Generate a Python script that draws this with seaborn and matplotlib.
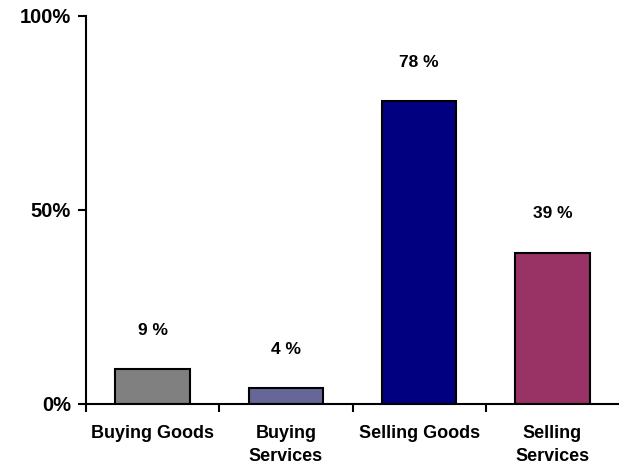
import matplotlib

matplotlib.use("Agg")
import matplotlib.pyplot as plt
import numpy as np
import pandas as pd
import seaborn as sns

categories = ["Buying Goods", "Buying\nServices", "Selling Goods", "Selling\nServices"]
values = [9, 4, 78, 39]
colors = ["#808080", "#666699", "#000080", "#993366"]

sns.set_style("white")
plt.rcParams["font.family"] = ["Liberation Sans", "DejaVu Sans"]
plt.rcParams["text.color"] = "black"
plt.rcParams["xtick.color"] = "black"
plt.rcParams["ytick.color"] = "black"

df = pd.DataFrame({"category": categories, "value": values})

fig = plt.figure(figsize=(6.19, 4.68), dpi=100)
ax = fig.add_axes([0.139, 0.137, 0.861, 0.829])

sns.barplot(
    data=df, x="category", y="value", hue="category", palette=colors,
    saturation=1, width=0.56, edgecolor="black", linewidth=1.5,
    legend=False, ax=ax,
)

# value labels sit a bit above each bar
for i, v in enumerate(values):
    ax.text(i, v + 10, f"{v} %", ha="center", va="center",
            fontsize=12.5, fontweight="bold")

ax.set_ylim(0, 100)
ax.set_xlim(-0.5, 3.5)
ax.set_yticks([0, 50, 100])
ax.set_yticklabels(["0%", "50%", "100%"], fontsize=14.5, fontweight="bold")
ax.set_xticks(range(len(categories)))
ax.set_xticklabels(categories, fontsize=13, fontweight="bold", linespacing=1.45)
ax.set_xticks(np.arange(-0.5, 3.0, 1.0), minor=True)
ax.tick_params(axis="x", which="major", bottom=True, length=0, pad=15)
ax.tick_params(axis="x", which="minor", bottom=True, length=6, width=1.5, direction="out")
ax.tick_params(axis="y", left=True, length=6, width=1.5, direction="out", pad=5)
ax.set_xlabel("")
ax.set_ylabel("")

sns.despine(ax=ax)
for side in ["left", "bottom"]:
    ax.spines[side].set_color("black")
    ax.spines[side].set_linewidth(1.5)

fig.savefig("out.png", dpi=100)
